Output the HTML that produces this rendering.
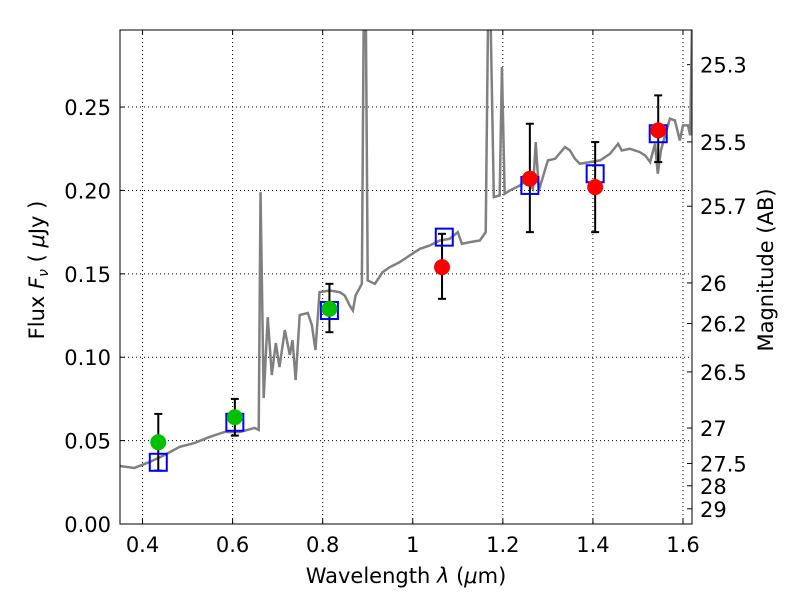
<!DOCTYPE html>
<html><head><meta charset="utf-8"><style>
body{margin:0;background:#fff}
svg text{font-family:"DejaVu Sans","Liberation Sans",sans-serif;fill:#000}
</style></head><body>
<svg id="c" width="800" height="600"></svg>
<script>
const xTicks=[0.4,0.6,0.8,1,1.2,1.4,1.6];
const xTickLabels=["0.4","0.6","0.8","1","1.2","1.4","1.6"];
const yTicks=[0,0.05,0.1,0.15,0.2,0.25];
const yTickLabels=["0.00","0.05","0.10","0.15","0.20","0.25"];
const magTicks=[25.3,25.5,25.7,26,26.2,26.5,27,27.5,28,29];
const specLam=[0.349,0.382,0.416,0.449,0.482,0.516,0.549,0.582,0.616,0.649,0.658,0.662,0.669,0.678,0.687,0.696,0.704,0.716,0.727,0.733,0.740,0.749,0.767,0.776,0.784,0.793,0.816,0.838,0.849,0.860,0.867,0.873,0.887,0.891,0.896,0.900,0.916,0.933,0.949,0.971,0.993,1.016,1.038,1.060,1.082,1.100,1.109,1.127,1.149,1.162,1.167,1.173,1.180,1.193,1.198,1.204,1.216,1.238,1.253,1.267,1.273,1.280,1.300,1.316,1.338,1.349,1.360,1.371,1.393,1.416,1.438,1.456,1.464,1.482,1.504,1.516,1.527,1.538,1.544,1.551,1.560,1.571,1.582,1.593,1.600,1.611,1.616,1.620];
const specFlux=[0.0348,0.0336,0.0372,0.0414,0.0462,0.0486,0.0522,0.0552,0.0552,0.0576,0.0564,0.199,0.0755,0.124,0.0893,0.1085,0.0941,0.1163,0.1013,0.1103,0.0863,0.1253,0.1265,0.1193,0.1043,0.139,0.140,0.139,0.137,0.131,0.128,0.137,0.144,0.30,0.30,0.146,0.144,0.151,0.154,0.157,0.161,0.165,0.167,0.170,0.171,0.175,0.168,0.169,0.170,0.175,0.30,0.30,0.196,0.197,0.274,0.198,0.200,0.203,0.206,0.201,0.229,0.200,0.218,0.219,0.226,0.224,0.219,0.216,0.217,0.218,0.222,0.228,0.224,0.225,0.223,0.221,0.217,0.228,0.210,0.224,0.233,0.243,0.242,0.230,0.239,0.239,0.233,0.30];
const obsLam=[0.435,0.605,0.815,1.065,1.26,1.405,1.545];
const obsFlux=[0.049,0.064,0.129,0.154,0.207,0.202,0.236];
const obsErrLo=[0.032,0.053,0.115,0.135,0.175,0.175,0.217];
const obsErrHi=[0.066,0.075,0.144,0.174,0.240,0.229,0.257];
const obsColor=["#00c000","#00c000","#00c000","#ff0000","#ff0000","#ff0000","#ff0000"];
const modLam=[0.435,0.605,0.815,1.07,1.26,1.405,1.545];
const modFlux=[0.037,0.061,0.128,0.172,0.203,0.210,0.234];

const L=120,R=692,T=30,B=524,xmin=0.35,xmax=1.62,ymin=0,ymax=0.2962;
const X=v=>L+(v-xmin)/(xmax-xmin)*(R-L);
const Y=v=>B-(v-ymin)/(ymax-ymin)*(B-T);
const svg=document.getElementById('c');const NS='http://www.w3.org/2000/svg';
function mk(t,a,p){const e=document.createElementNS(NS,t);for(const k in a)e.setAttribute(k,a[k]);(p||svg).appendChild(e);return e;}
const clip=mk('clipPath',{id:'cp'});mk('rect',{x:L,y:T,width:R-L,height:B-T},clip);
xTicks.forEach((v,i)=>{const x=X(v);
 const g=mk('line',{x1:x,x2:x,y1:T,y2:B,stroke:'#000','stroke-dasharray':'1,3','stroke-width':1});
 
 mk('line',{x1:x,x2:x,y1:B,y2:B-5,stroke:'#000'});mk('line',{x1:x,x2:x,y1:T,y2:T+5,stroke:'#000'});
 const t=mk('text',{x:x,y:552,'text-anchor':'middle','font-size':21});t.textContent=xTickLabels[i];
 });
yTicks.forEach((v,i)=>{const y=Y(v);
 const g=mk('line',{x1:L,x2:R,y1:y,y2:y,stroke:'#000','stroke-dasharray':'1,3','stroke-width':1});
 
 mk('line',{x1:L,x2:L+5,y1:y,y2:y,stroke:'#000'});
 const t=mk('text',{x:111,y:y+8,'text-anchor':'end','font-size':21});t.textContent=yTickLabels[i];
 });
magTicks.forEach(m=>{const f=Math.pow(10,(23.9-m)/2.5);const y=Y(f);
 mk('line',{x1:R,x2:R-5,y1:y,y2:y,stroke:'#000'});
 const t=mk('text',{x:700,y:y+8,'font-size':21});t.textContent=String(m);
 });
const sp=mk('polyline',{points:specLam.map((l,i)=>X(l)+','+Y(specFlux[i])).join(' '),fill:'none',stroke:'#808080','stroke-width':2.5,'clip-path':'url(#cp)'});

obsLam.forEach((l,i)=>{const x=X(l);
 const e=mk('line',{x1:x,x2:x,y1:Y(obsErrLo[i]),y2:Y(obsErrHi[i]),stroke:'#000','stroke-width':2});
 
 mk('line',{x1:x-4,x2:x+4,y1:Y(obsErrLo[i]),y2:Y(obsErrLo[i]),stroke:'#000','stroke-width':2});
 mk('line',{x1:x-4,x2:x+4,y1:Y(obsErrHi[i]),y2:Y(obsErrHi[i]),stroke:'#000','stroke-width':2});});
modLam.forEach((l,i)=>{const r=mk('rect',{x:X(l)-8.5,y:Y(modFlux[i])-8.5,width:17,height:17,fill:'none',stroke:'#0000ff','stroke-width':2});
 });
obsLam.forEach((l,i)=>{const c=mk('circle',{cx:X(l),cy:Y(obsFlux[i]),r:8,fill:obsColor[i]});
 });
const fr=mk('rect',{x:L,y:T,width:R-L,height:B-T,fill:'none',stroke:'#000','stroke-width':1});

</script>
<svg width="800" height="600" style="position:absolute;left:0;top:0;pointer-events:none">
<text x="406" y="583" text-anchor="middle" font-size="21">Wavelength  <tspan font-style="italic">λ</tspan> (<tspan font-style="italic">μ</tspan>m)</text>
<text transform="translate(44,270) rotate(-90)" text-anchor="middle" font-size="21">Flux  <tspan font-style="italic">F</tspan><tspan font-style="italic" font-size="14" dy="4">ν</tspan><tspan dy="-4">  (  </tspan><tspan font-style="italic">μ</tspan>Jy )</text>
<text transform="translate(773,270) rotate(-90)" text-anchor="middle" font-size="21">Magnitude (AB)</text>
</svg>
</body></html>
